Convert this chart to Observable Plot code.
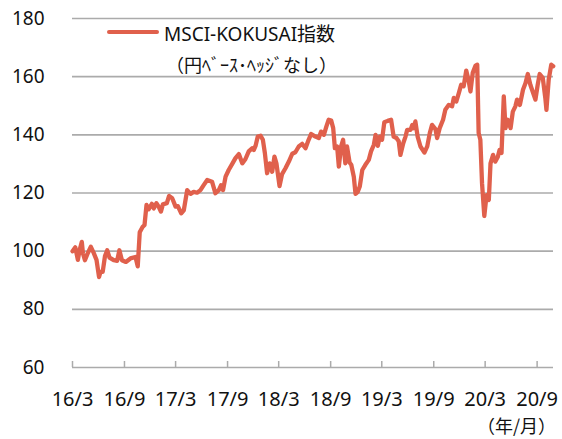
<!DOCTYPE html>
<html><head><meta charset="utf-8">
<script src="https://cdn.jsdelivr.net/npm/d3@7"></script>
<script src="https://cdn.jsdelivr.net/npm/@observablehq/plot@0.6"></script>
<style>
body{margin:0;background:#fff;}
#wrap{position:relative;width:562px;height:439px;overflow:hidden;font-family:"Noto Sans","Noto Sans CJK JP",sans-serif;color:#111;}
#wrap svg{display:block;}
.leg-line{position:absolute;left:107px;top:30px;width:52px;height:4px;background:#E0604C;border-radius:2px;}
.leg-text{position:absolute;left:164px;top:21px;font-size:19px;line-height:26px;white-space:nowrap;}
.leg-note{position:absolute;left:166px;top:51px;font-size:18px;line-height:26px;white-space:nowrap;font-family:"Noto Sans CJK JP","Noto Sans",sans-serif;}
.unit{position:absolute;right:6px;top:414px;font-size:18px;line-height:22px;font-family:"Noto Sans CJK JP",sans-serif;}
</style></head><body>
<div id="wrap"></div>
<script>
const seriesName = "MSCI-KOKUSAI指数";
const seriesNote = "（円ﾍﾞｰｽ･ﾍｯｼﾞなし）";
const unitLabel = "（年/月）";
const yTicks = [60, 80, 100, 120, 140, 160, 180];
const xTickDates = ["2016-03-01","2016-09-01","2017-03-01","2017-09-01","2018-03-01","2018-09-01","2019-03-01","2019-09-01","2020-03-01","2020-09-01"];
const xTickLabels = ["16/3","16/9","17/3","17/9","18/3","18/9","19/3","19/9","20/3","20/9"];
const xDomain = ["2016-03-01", "2020-10-29"];

const dates = [
"2016-03-01","2016-03-11","2016-03-20","2016-03-26","2016-04-03","2016-04-07","2016-04-14","2016-04-24","2016-05-05","2016-05-15",
"2016-05-25","2016-06-03","2016-06-08","2016-06-16","2016-06-24","2016-07-02","2016-07-10","2016-07-25","2016-08-06","2016-08-14",
"2016-08-23","2016-09-06","2016-09-22","2016-10-10","2016-10-18","2016-10-25","2016-11-04","2016-11-11","2016-11-18","2016-11-26",
"2016-12-07","2016-12-14","2016-12-23","2016-12-31","2017-01-08","2017-01-15","2017-01-29","2017-02-06","2017-02-17","2017-03-01",
"2017-03-09","2017-03-21","2017-03-30","2017-04-11","2017-04-23","2017-05-04","2017-05-16","2017-05-28","2017-06-09","2017-06-21",
"2017-07-08","2017-07-20","2017-08-01","2017-08-09","2017-08-16","2017-08-25","2017-09-05","2017-09-17","2017-09-29","2017-10-11",
"2017-10-23","2017-11-03","2017-11-15","2017-11-27","2017-12-03","2017-12-09","2017-12-17","2017-12-27","2018-01-04","2018-01-11",
"2018-01-19","2018-01-28","2018-02-06","2018-02-14","2018-02-21","2018-03-04","2018-03-13","2018-03-25","2018-04-06","2018-04-18",
"2018-04-29","2018-05-11","2018-05-23","2018-06-04","2018-06-15","2018-06-24","2018-07-09","2018-07-21","2018-07-29","2018-08-08",
"2018-08-17","2018-08-25","2018-09-03","2018-09-10","2018-09-16","2018-09-24","2018-09-30","2018-10-08","2018-10-15","2018-10-23",
"2018-10-29","2018-11-07","2018-11-13","2018-11-22","2018-11-28","2018-12-06","2018-12-13","2018-12-22","2019-01-02","2019-01-14",
"2019-01-22","2019-02-01","2019-02-07","2019-02-15","2019-02-22","2019-03-02","2019-03-10","2019-03-22","2019-04-03","2019-04-12",
"2019-04-22","2019-04-30","2019-05-06","2019-05-16","2019-05-24","2019-05-30","2019-06-11","2019-06-17","2019-06-22","2019-06-28",
"2019-07-06","2019-07-16","2019-07-30","2019-08-09","2019-08-18","2019-08-26","2019-09-07","2019-09-13","2019-09-22","2019-10-04",
"2019-10-12","2019-10-24","2019-11-05","2019-11-11","2019-11-20","2019-11-29","2019-12-07","2019-12-16","2019-12-25","2020-01-03",
"2020-01-09","2020-01-17","2020-01-27","2020-02-02","2020-02-07","2020-02-13","2020-02-19","2020-02-27","2020-03-06","2020-03-14",
"2020-03-20","2020-03-29","2020-04-06","2020-04-15","2020-04-21","2020-04-28","2020-05-06","2020-05-12","2020-05-20","2020-05-30",
"2020-06-07","2020-06-16","2020-06-22","2020-07-02","2020-07-13","2020-07-22","2020-07-30","2020-08-08","2020-08-18","2020-08-26",
"2020-09-03","2020-09-10","2020-09-21","2020-09-30","2020-10-04","2020-10-12","2020-10-21","2020-10-28"
];
const values = [
100.0,101.3,97.0,100.3,103.2,99.2,96.9,99.3,101.5,99.4,
97.0,91.1,92.9,92.9,98.3,100.3,97.8,96.9,96.7,100.3,
96.9,96.3,97.5,98.0,94.8,106.5,108.3,109.0,115.9,114.4,
116.3,114.7,116.5,115.3,113.6,116.1,116.5,119.0,118.2,115.3,
115.5,113.0,114.0,121.0,119.7,120.4,120.1,121.0,122.8,124.5,
123.9,119.9,121.0,122.7,121.0,125.6,127.9,129.9,132.0,133.4,
130.2,131.6,134.3,135.4,134.8,136.2,139.4,139.7,138.3,133.8,
126.8,130.2,127.3,132.5,130.2,122.4,126.5,128.5,130.8,133.5,
134.0,136.0,136.9,135.4,138.3,140.3,139.4,138.9,141.1,140.0,
142.9,145.2,144.9,142.3,135.4,136.0,129.1,136.0,138.3,130.2,
136.0,130.5,129.7,125.6,119.7,120.4,122.2,127.9,129.7,131.4,
134.3,136.6,140.0,136.2,139.4,138.3,144.3,144.8,145.2,139.4,
138.9,137.8,133.1,137.1,139.4,141.7,141.7,143.4,142.3,144.6,
139.4,136.0,133.9,136.0,140.6,143.4,142.0,138.9,142.3,145.2,
148.6,150.3,149.8,152.7,151.5,154.4,157.2,156.7,162.1,158.4,
154.9,161.3,163.8,164.1,140.6,138.3,123.3,112.1,119.3,117.6,
130.2,133.1,130.8,132.5,134.8,133.8,153.2,142.3,145.2,142.3,
148.0,149.8,152.1,150.3,155.5,157.8,160.9,157.2,154.4,152.1,
157.2,160.9,159.6,152.7,148.6,159.0,164.1,163.6
];

const parse = d3.utcParse("%Y-%m-%d");
const data = dates.map((d, i) => ({date: parse(d), value: values[i]}));
const tickDates = xTickDates.map(parse);
const labelOf = new Map(tickDates.map((d, i) => [+d, xTickLabels[i]]));

const chart = Plot.plot({
  width: 562,
  height: 439,
  marginTop: 18,
  marginBottom: 72,
  marginLeft: 72,
  marginRight: 9,
  style: {fontFamily: '"Noto Sans", sans-serif', color: "#111", background: "#fff"},
  x: {type: "utc", domain: xDomain.map(parse)},
  y: {domain: [60, 180]},
  marks: [
    Plot.ruleY(yTicks, {stroke: "#ABABAB", strokeWidth: 1.7}),
    Plot.axisY({ticks: yTicks, tickSize: 0, tickPadding: 28, fontSize: 19, label: null}),
    Plot.axisX({ticks: tickDates, tickSize: -6, tickPadding: 30, stroke: "#ABABAB", strokeWidth: 1.5, strokeOpacity: 1,
      tickFormat: d => labelOf.get(+d), fontSize: 20, label: null}),
    Plot.line(data, {x: "date", y: "value", stroke: "#E0604C", strokeWidth: 4.3, strokeLinejoin: "round", strokeLinecap: "round"})
  ]
});

const wrap = document.getElementById("wrap");
wrap.appendChild(chart);
const mk = (cls, txt) => { const e = document.createElement("div"); e.className = cls; if (txt) e.textContent = txt; wrap.appendChild(e); };
mk("leg-line");
mk("leg-text", seriesName);
mk("leg-note", seriesNote);
mk("unit", unitLabel);
</script>
</body></html>
